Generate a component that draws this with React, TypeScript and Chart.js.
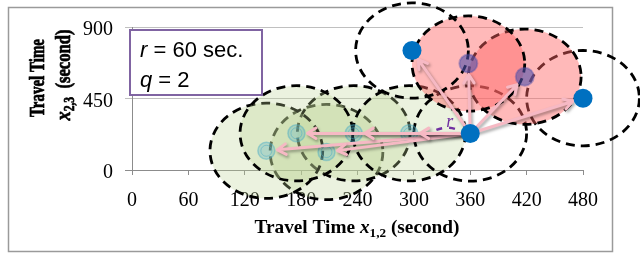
import React, { useEffect, useRef } from "react";
import { Chart, registerables } from "chart.js";

Chart.register(...registerables);

// ---- data ----
const xTickValues = [0, 60, 120, 180, 240, 300, 360, 420, 480];
const yTickValues = [0, 450, 900];
// observed (blue) points: [0] is the current point
const blueX = [360, 298, 480];
const blueY = [230, 752, 452];
// purple (selected) points
const purpleX = [358, 418];
const purpleY = [670, 587];
// teal (neighbour) points
const tealX = [143, 175, 207, 236, 295];
const tealY = [121, 231, 113, 231, 231];
// neighbourhood radius r (seconds) and its vertical extent on the y scale
const radiusX = 60;
const radiusY = 300;
const boxLines = ["r = 60 sec.", "q = 2"];
const xTitle = ["Travel Time ", "x", "1,2", " (second)"];
const yTitle1 = "Travel Time";
const yTitle2 = ["x", "2,3", "  (second)"];

// drawing order of the neighbourhood ellipses
const tealOrder = [2, 3, 4, 0, 1];
const purpleOrder = [1, 0];

const SERIF = "'Times New Roman', 'Liberation Serif', serif";
const SANS = "Arial, 'Liberation Sans', sans-serif";
const BLUE_INDEX = 0;

type Seg = { t: string; font: string; dy?: number };

function segWidth(ctx: CanvasRenderingContext2D, segs: Seg[]) {
  let w = 0;
  for (const s of segs) {
    ctx.font = s.font;
    w += ctx.measureText(s.t).width;
  }
  return w;
}

function drawSegs(ctx: CanvasRenderingContext2D, segs: Seg[], x: number, y: number, stroke = false) {
  let cx = x;
  for (const s of segs) {
    ctx.font = s.font;
    ctx.fillText(s.t, cx, y + (s.dy || 0));
    if (stroke) ctx.strokeText(s.t, cx, y + (s.dy || 0));
    cx += ctx.measureText(s.t).width;
  }
}

const overlay = {
  id: "overlay",
  beforeDraw(chart: any) {
    const ctx = chart.ctx as CanvasRenderingContext2D;
    ctx.save();
    ctx.fillStyle = "#fff";
    ctx.fillRect(0, 0, chart.width, chart.height);
    ctx.strokeStyle = "#9a9a9a";
    ctx.lineWidth = 1.5;
    ctx.strokeRect(8.5, 7.5, 604, 244);
    ctx.restore();
  },
  beforeDatasetsDraw(chart: any) {
    const ctx = chart.ctx as CanvasRenderingContext2D;
    const xs = chart.scales.x;
    const ys = chart.scales.y;
    const ell = (vx: number, vy: number, fill: string | null) => {
      const cx = xs.getPixelForValue(vx);
      const cy = ys.getPixelForValue(vy);
      const rx = xs.getPixelForValue(vx + radiusX) - cx;
      const ry = cy - ys.getPixelForValue(vy + radiusY);
      ctx.beginPath();
      ctx.ellipse(cx, cy, rx, ry, 0, 0, Math.PI * 2);
      if (fill) {
        ctx.fillStyle = fill;
        ctx.fill();
      }
      ctx.setLineDash([9, 6]);
      ctx.lineWidth = 2.8;
      ctx.strokeStyle = "#000";
      ctx.stroke();
    };
    ctx.save();
    for (const i of tealOrder) ell(tealX[i], tealY[i], "rgba(190,212,150,0.3)");
    ell(blueX[0], blueY[0], null);
    ell(blueX[2], blueY[2], null);
    for (const i of purpleOrder) ell(purpleX[i], purpleY[i], "rgba(255,100,100,0.45)");
    ell(blueX[1], blueY[1], null);
    ctx.restore();
  },
  beforeDatasetDraw(chart: any, args: any) {
    if (args.index !== BLUE_INDEX) return;
    const ctx = chart.ctx as CanvasRenderingContext2D;
    const xs = chart.scales.x;
    const ys = chart.scales.y;
    const x0 = xs.getPixelForValue(blueX[0]);
    const y0 = ys.getPixelForValue(blueY[0]);
    ctx.save();
    // radius indicator
    const rxPix = xs.getPixelForValue(blueX[0]) - xs.getPixelForValue(blueX[0] - radiusX * 0.8);
    ctx.beginPath();
    ctx.moveTo(x0 - rxPix, y0 + 3);
    ctx.quadraticCurveTo(x0 - rxPix / 2, y0 - 14, x0 - 4, y0 + 2);
    ctx.setLineDash([6, 7]);
    ctx.lineWidth = 2.5;
    ctx.strokeStyle = "#7030A0";
    ctx.stroke();
    ctx.setLineDash([]);
    ctx.fillStyle = "#7030A0";
    ctx.font = `italic 18px ${SERIF}`;
    ctx.textAlign = "center";
    ctx.fillText("r", x0 - rxPix / 2 + 2, y0 - 6);
    // arrows
    const targets: [number, number][] = [];
    for (let i = 0; i < tealX.length; i++) targets.push([tealX[i], tealY[i]]);
    for (let i = 0; i < purpleX.length; i++) targets.push([purpleX[i], purpleY[i]]);
    for (let i = 1; i < blueX.length; i++) targets.push([blueX[i], blueY[i]]);
    ctx.strokeStyle = "#F6B9C4";
    ctx.lineWidth = 3;
    ctx.lineCap = "round";
    ctx.lineJoin = "round";
    ctx.shadowColor = "rgba(0,0,0,0.35)";
    ctx.shadowBlur = 3;
    ctx.shadowOffsetX = 1.5;
    ctx.shadowOffsetY = 2;
    for (const [vx, vy] of targets) {
      const x1 = xs.getPixelForValue(vx);
      const y1 = ys.getPixelForValue(vy);
      const a = Math.atan2(y1 - y0, x1 - x0);
      const tx = x1 - Math.cos(a) * 11;
      const ty = y1 - Math.sin(a) * 11;
      ctx.beginPath();
      ctx.moveTo(x0, y0);
      ctx.lineTo(tx, ty);
      const h = 10;
      ctx.moveTo(tx - Math.cos(a - 0.55) * h, ty - Math.sin(a - 0.55) * h);
      ctx.lineTo(tx, ty);
      ctx.lineTo(tx - Math.cos(a + 0.55) * h, ty - Math.sin(a + 0.55) * h);
      ctx.stroke();
    }
    ctx.restore();
  },
  afterDraw(chart: any) {
    const ctx = chart.ctx as CanvasRenderingContext2D;
    ctx.save();
    // text box
    ctx.fillStyle = "#fff";
    ctx.fillRect(130, 30, 132, 65);
    ctx.strokeStyle = "#8064A2";
    ctx.lineWidth = 2;
    ctx.strokeRect(130, 30, 132, 65);
    ctx.fillStyle = "#000";
    ctx.textAlign = "left";
    ctx.textBaseline = "alphabetic";
    boxLines.forEach((line, i) => {
      const first = line.slice(0, 1);
      const rest = line.slice(1);
      drawSegs(
        ctx,
        [
          { t: first, font: `italic 22px ${SANS}` },
          { t: rest, font: `22px ${SANS}` },
        ],
        140,
        57 + i * 30
      );
    });
    // x title
    const xs: Seg[] = [
      { t: xTitle[0], font: `bold 19px ${SERIF}` },
      { t: xTitle[1], font: `italic bold 19px ${SERIF}` },
      { t: xTitle[2], font: `bold 13px ${SERIF}`, dy: 4 },
      { t: xTitle[3], font: `bold 19px ${SERIF}` },
    ];
    const xw = segWidth(ctx, xs);
    const xScaleF = 205 / xw;
    ctx.save();
    ctx.translate(357, 233);
    ctx.scale(xScaleF, 1);
    drawSegs(ctx, xs, -xw / 2, 0);
    ctx.restore();
    // y title
    ctx.strokeStyle = "#000";
    ctx.lineWidth = 0.7;
    const y1: Seg[] = [{ t: yTitle1, font: `bold 21px ${SERIF}` }];
    const y1w = segWidth(ctx, y1);
    ctx.save();
    ctx.translate(44, 78);
    ctx.rotate(-Math.PI / 2);
    ctx.scale(78 / y1w, 1);
    drawSegs(ctx, y1, -y1w / 2, 0, true);
    ctx.restore();
    const y2: Seg[] = [
      { t: yTitle2[0], font: `italic bold 22px ${SERIF}` },
      { t: yTitle2[1], font: `bold 14px ${SERIF}`, dy: 4 },
      { t: yTitle2[2], font: `bold 20px ${SERIF}` },
    ];
    const y2w = segWidth(ctx, y2);
    ctx.save();
    ctx.translate(70, 75);
    ctx.rotate(-Math.PI / 2);
    ctx.scale(91 / y2w, 1);
    drawSegs(ctx, y2, -y2w / 2, 0, true);
    ctx.restore();
    ctx.restore();
  },
};

export default function App() {
  const ref = useRef<HTMLCanvasElement | null>(null);
  useEffect(() => {
    if (!ref.current) return;
    const toPts = (xa: number[], ya: number[]) => xa.map((x, i) => ({ x, y: ya[i] }));
    const chart = new Chart(ref.current, {
      type: "scatter",
      data: {
        datasets: [
          {
            label: "observed",
            data: toPts(blueX, blueY),
            backgroundColor: "#0070C0",
            borderColor: "#0070C0",
            pointRadius: 9.5,
            borderWidth: 0,
            order: 0,
            clip: false,
          },
          {
            label: "selected",
            data: toPts(purpleX, purpleY),
            backgroundColor: "rgba(80,80,170,0.6)",
            borderColor: "rgba(80,80,170,0.4)",
            pointRadius: 9,
            borderWidth: 2,
            order: 1,
            clip: false,
          },
          {
            label: "neighbours",
            data: toPts(tealX, tealY),
            backgroundColor: "rgba(75,172,198,0.3)",
            borderColor: "rgba(75,172,198,0.45)",
            pointRadius: 8.5,
            borderWidth: 1.5,
            order: 2,
            clip: false,
          },
          {
            label: "neighbours-ring",
            data: toPts(tealX, tealY),
            backgroundColor: "rgba(0,0,0,0)",
            borderColor: "rgba(75,172,198,0.5)",
            pointRadius: 5.5,
            borderWidth: 1,
            order: 1.5,
            clip: false,
          },
        ],
      },
      options: {
        responsive: false,
        animation: false,
        devicePixelRatio: 1,
        layout: { padding: { left: 0, top: 27, right: 57, bottom: 0 } },
        plugins: { legend: { display: false }, tooltip: { enabled: false } },
        scales: {
          x: {
            type: "linear",
            min: 0,
            max: 480,
            afterFit: (s: any) => {
              s.height = 84;
            },
            afterBuildTicks: (s: any) => {
              s.ticks = xTickValues.map((v) => ({ value: v }));
            },
            ticks: {
              autoSkip: false,
              maxRotation: 0,
              padding: 14,
              color: "#000",
              font: { family: SERIF, size: 20 },
            },
            grid: {
              drawOnChartArea: false,
              drawTicks: true,
              tickLength: 5,
              color: "#8c8c8c",
            },
            border: { color: "#8c8c8c", width: 1 },
          },
          y: {
            type: "linear",
            min: 0,
            max: 900,
            afterFit: (s: any) => {
              s.width = 132;
            },
            afterBuildTicks: (s: any) => {
              s.ticks = yTickValues.map((v) => ({ value: v }));
            },
            ticks: {
              padding: 12,
              labelOffset: 3,
              color: "#000",
              font: { family: SERIF, size: 20 },
            },
            grid: {
              tickLength: 7,
              color: (c: any) => (c.tick && c.tick.value === 0 ? "#8c8c8c" : "#c0c0c0"),
            },
            border: { color: "#8c8c8c", width: 1 },
          },
        },
      },
      plugins: [overlay],
    } as any);
    return () => chart.destroy();
  }, []);
  return (
    <canvas
      ref={ref}
      width={640}
      height={254}
      style={{ position: "fixed", left: 0, top: 0, width: "640px", height: "254px", display: "block" }}
    />
  );
}
